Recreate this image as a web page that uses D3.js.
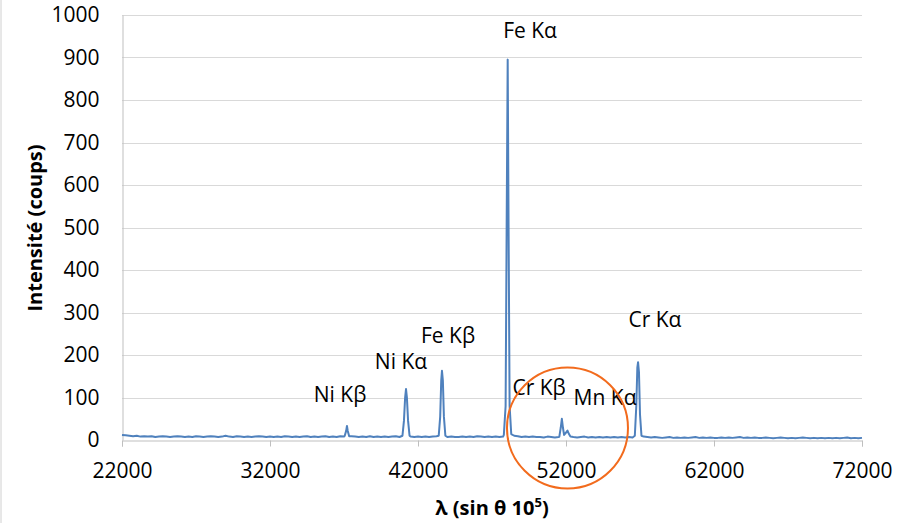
<!DOCTYPE html>
<html><head><meta charset="utf-8">
<script src="https://cdn.jsdelivr.net/npm/d3@7"></script>
<style>body{margin:0;background:#fff}svg{display:block}</style>
</head><body>
<svg id="c" width="900" height="523"></svg>
<script>
const xTicks = [22000, 32000, 42000, 52000, 62000, 72000];
const yTicks = [0,100,200,300,400,500,600,700,800,900,1000];
const baseStart = 22000, baseStep = 250;
const baseline = [12,11,10,9,10,8,9,8,9,7,8,9,8,7,8,9,8,7,8,7,9,
 8,7,8,9,8,7,8,10,8,7,9,8,7,8,7,8,9,8,7,8,
 7,8,7,9,8,7,8,7,8,9,7,8,7,8,9,7,8,7,9,8,
 7,9,8,7,8,7,9,7,8,7,8,7,8,9,7,8,7,8,7,8,
 7,8,7,8,9,7,8,7,8,7,7,8,7,8,7,9,8,7,8,7,
 8,7,8,9,8,10,9,7,8,7,8,7,7,6,8,7,6,7,8,7,
 6,7,6,7,8,6,7,6,7,6,7,6,7,6,7,6,7,6,7,6,
 8,7,6,7,6,5,6,7,5,6,5,6,5,6,7,5,6,5,6,5,
 5,6,5,6,5,6,7,5,6,5,6,5,5,6,5,4,5,6,5,4,
 5,4,5,6,5,4,5,4,5,4,5,4,5,4,5,6,4,5,4,5];
const peakNiKb = [[37050,10],[37150,22],[37200,33],[37250,22],[37350,9]];
const peakNiKa = [[40950,10],[41050,45],[41130,100],[41190,120],[41250,100],[41330,45],[41430,10]];
const peakFeKb = [[43400,10],[43500,55],[43570,140],[43620,163],[43680,140],[43750,55],[43850,10]];
const peakFeKa = [[47800,12],[47920,80],[47990,500],[48060,895],[48120,500],[48190,80],[48300,14]];
const peakCrKb = [[51550,8],[51650,30],[51720,50],[51790,30],[51870,12]];
const peakMnKa = [[51950,15],[52100,22],[52200,14],[52300,8]];
const peakCrKa = [[56650,10],[56750,80],[56820,170],[56870,183],[56930,160],[57000,60],[57100,10]];
const labelText = ["Fe Kα","Fe Kβ","Ni Kα","Ni Kβ","Cr Kβ","Mn Kα","Cr Kα"];
const labelX = [49570, 44030, 40850, 36730, 50180, 54640, 58010];
const labelY = [946, 228, 167, 89, 106, 82, 266];

const peaks = [peakNiKb,peakNiKa,peakFeKb,peakFeKa,peakCrKb,peakMnKa,peakCrKa];
let pts = [];
baseline.forEach((v,i)=>{
  const xv = baseStart + i*baseStep;
  if (!peaks.some(p => xv>=p[0][0] && xv<=p[p.length-1][0])) pts.push([xv,v]);
});
peaks.forEach(p => pts = pts.concat(p));
pts.sort((a,b)=>a[0]-b[0]);

const svg = d3.select("#c");
const x = d3.scaleLinear().domain([22000,72000]).range([122,862]);
const y = d3.scaleLinear().domain([0,1000]).range([440,15]);
const font = "'Open Sans', 'Liberation Sans', sans-serif";

svg.append("line").attr("x1",1).attr("x2",1).attr("y1",0).attr("y2",523).attr("stroke","#d0d0d0");

// gridlines
svg.append("g").selectAll("line").data(yTicks.slice(1)).join("line")
  .attr("x1",x(22000)).attr("x2",x(72000))
  .attr("y1",d=>Math.round(y(d))+0.5).attr("y2",d=>Math.round(y(d))+0.5)
  .attr("stroke","#d9d9d9").attr("stroke-width",1);

// axes
const xAxis = svg.append("g").attr("transform",`translate(0,${Math.round(y(0))+0.5})`)
  .call(d3.axisBottom(x).tickValues(xTicks).tickFormat(d3.format("d")).tickSize(6).tickPadding(17));
const yAxis = svg.append("g").attr("transform",`translate(${Math.round(x(22000))+0.5},0)`)
  .call(d3.axisLeft(y).tickValues(yTicks).tickFormat(d3.format("d")).tickSize(0).tickPadding(23));
[xAxis,yAxis].forEach(a=>{
  a.select(".domain").attr("stroke","#bfbfbf");
  a.selectAll(".tick line").attr("stroke","#bfbfbf");
  a.selectAll("text").attr("font-family",font).attr("font-size",21).attr("fill","#000");
});
yAxis.selectAll(".tick line").remove();

// spectrum
svg.append("path").datum(pts)
  .attr("d", d3.line().x(d=>x(d[0])).y(d=>y(d[1])))
  .attr("fill","none").attr("stroke","#4f81bd").attr("stroke-width",2).attr("stroke-linejoin","round");

// peak labels
svg.append("g").selectAll("text").data(labelText).join("text")
  .attr("x",(d,i)=>x(labelX[i])).attr("y",(d,i)=>y(labelY[i]))
  .attr("text-anchor","middle").attr("font-family",font).attr("font-size",21).attr("fill","#000")
  .text(d=>d);

// circle highlight
svg.append("circle").attr("cx",x(52100)).attr("cy",428).attr("r",60.5)
  .attr("fill","none").attr("stroke","#f26b1d").attr("stroke-width",2);

// axis titles
svg.append("text").attr("transform","translate(42,228) rotate(-90)").attr("text-anchor","middle")
  .attr("font-family",font).attr("font-weight","bold").attr("font-size",20).text("Intensité (coups)");
const xt = svg.append("text").attr("x",492).attr("y",515).attr("text-anchor","middle")
  .attr("font-family",font).attr("font-weight","bold").attr("font-size",20);
xt.append("tspan").text("λ (sin θ 10");
xt.append("tspan").attr("dy",-8).attr("font-size",13).text("5");
xt.append("tspan").attr("dy",8).text(")");
</script>
</body></html>
